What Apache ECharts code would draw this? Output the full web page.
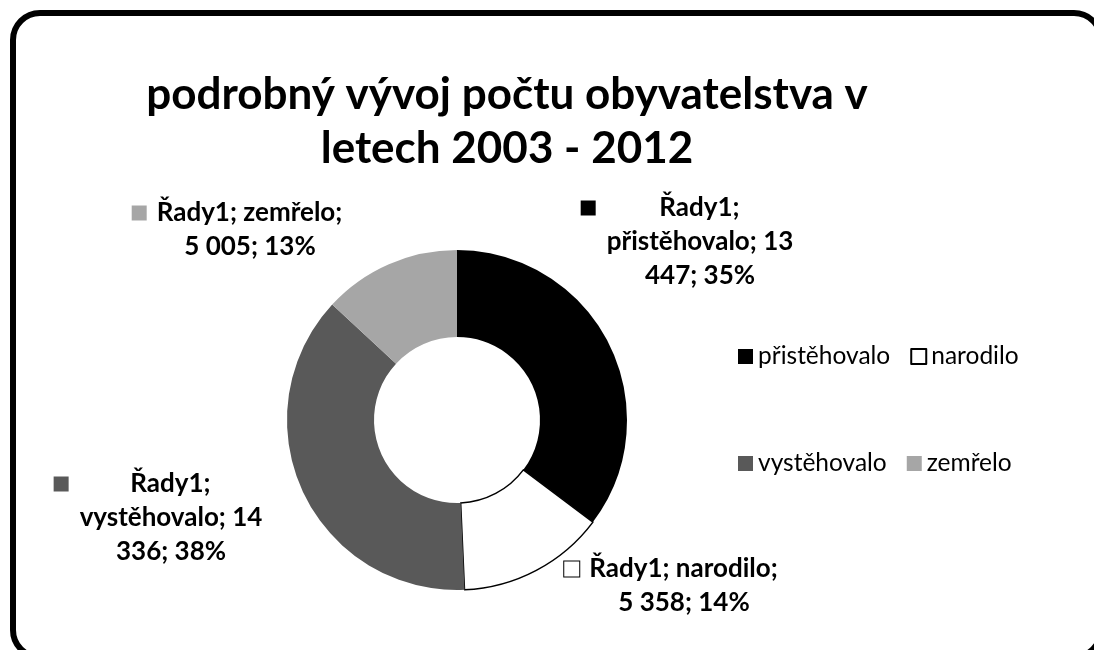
<!DOCTYPE html>
<html>
<head>
<meta charset="utf-8">
<script src="https://cdn.jsdelivr.net/npm/echarts@6/dist/echarts.min.js"></script>
<style>
    html, body { margin: 0; padding: 0; background: #fff; overflow: hidden; }
    #wrap { position: relative; width: 1094px; height: 650px; overflow: hidden; }
    #frame {
        position: absolute; left: 10px; top: 10px;
        width: 1094px; height: 650px; box-sizing: border-box;
        border: 6px solid #000; border-radius: 30px;
    }
    #myChart { position: absolute; left: 0; top: 0; width: 1094px; height: 650px; }
</style>
</head>
<body>
<div id="wrap">
    <div id="frame"></div>
    <div id="myChart"></div>
</div>
<script>
    // data
    var seriesName = 'Řady1';
    var categories = ['přistěhovalo', 'narodilo', 'vystěhovalo', 'zemřelo'];
    var values = [13447, 5358, 14336, 5005];
    var titleText = 'podrobný vývoj počtu obyvatelstva v\nletech 2003 - 2012';

    // styles
    var colors = ['#000000', '#ffffff', '#595959', '#a6a6a6'];
    var FONT = 'Lato';
    // where each data label block sits (center x, top y)
    var labelAnchors = [[700, 191], [684, 552], [171, 467], [250, 196]];

    function fmtNum(v) {
        return String(v).replace(/\B(?=(\d{3})+(?!\d))/g, ' ');
    }

    // excel-like wrapping of the label text
    function wrap(text, maxChars) {
        var words = text.split(' ');
        var lines = [];
        var cur = '';
        words.forEach(function (w) {
            if (!cur) { cur = w; }
            else if ((cur + ' ' + w).length <= maxChars) { cur += ' ' + w; }
            else { lines.push(cur); cur = w; }
        });
        if (cur) lines.push(cur);
        return lines;
    }

    var rich = {
        g: {width: 10, align: 'left'},
        sl: {width: 26, align: 'left'},
        s: {width: 26, align: 'right'},
        t: {align: 'center', fontFamily: FONT, fontWeight: 'bold', fontSize: 26, lineHeight: 34, color: '#000'}
    };
    colors.forEach(function (c, i) {
        rich['k' + i] = {
            width: 15, height: 15, align: 'left', backgroundColor: c,
            borderColor: i === 1 ? '#000' : c, borderWidth: i === 1 ? 1 : 0
        };
    });

    var pieData = categories.map(function (name, i) {
        return {
            name: name,
            value: values[i],
            itemStyle: {
                color: colors[i],
                borderColor: i === 1 ? '#000' : colors[i],
                borderWidth: i === 1 ? 1.5 : 0
            }
        };
    });

    var legendBase = {
        left: 738,
        padding: 0,
        icon: 'rect',
        itemWidth: 15,
        itemHeight: 15,
        itemGap: 20,
        selectedMode: false,
        formatter: function (name) { return '{w|' + name + '}'; },
        textStyle: {
            fontFamily: FONT, fontSize: 24.5, color: '#000',
            rich: {w: {width: 140, fontFamily: FONT, fontSize: 24.5, color: '#000'}}
        }
    };

    var myChart = echarts.init(document.getElementById('myChart'));
    myChart.setOption({
        animation: false,
        title: {
            text: titleText,
            left: 507,
            top: 68,
            padding: 0,
            textAlign: 'center',
            textStyle: {
                fontFamily: FONT,
                fontWeight: 'bold',
                fontSize: 44,
                lineHeight: 54,
                color: '#000'
            }
        },
        legend: [
            Object.assign({}, legendBase, {data: categories.slice(0, 2), top: 344}),
            Object.assign({}, legendBase, {data: categories.slice(2, 4), top: 451})
        ],
        series: [{
            name: seriesName,
            type: 'pie',
            center: [457, 420],
            radius: [83, 170],
            startAngle: 90,
            clockwise: true,
            avoidLabelOverlap: false,
            data: pieData,
            labelLine: {show: false},
            label: {
                show: true,
                position: 'outside',
                fontFamily: FONT,
                fontWeight: 'bold',
                fontSize: 26,
                lineHeight: 34,
                color: '#000',
                rich: rich,
                formatter: function (p) {
                    var txt = p.seriesName + '; ' + p.name + '; ' + fmtNum(p.value) + '; ' + Math.round(p.percent) + '%';
                    var lines = wrap(txt, 16);
                    return lines.map(function (l, j) {
                        if (j === 0) return '{k' + p.dataIndex + '|}{g|}{t|' + l + '}{s|}';
                        return '{sl|}{t|' + l + '}{s|}';
                    }).join('\n');
                }
            },
            labelLayout: function (params) {
                var a = labelAnchors[params.dataIndex];
                return {x: a[0], y: a[1], align: 'center', verticalAlign: 'top'};
            },
            emphasis: {disabled: true}
        }]
    });
</script>
</body>
</html>
